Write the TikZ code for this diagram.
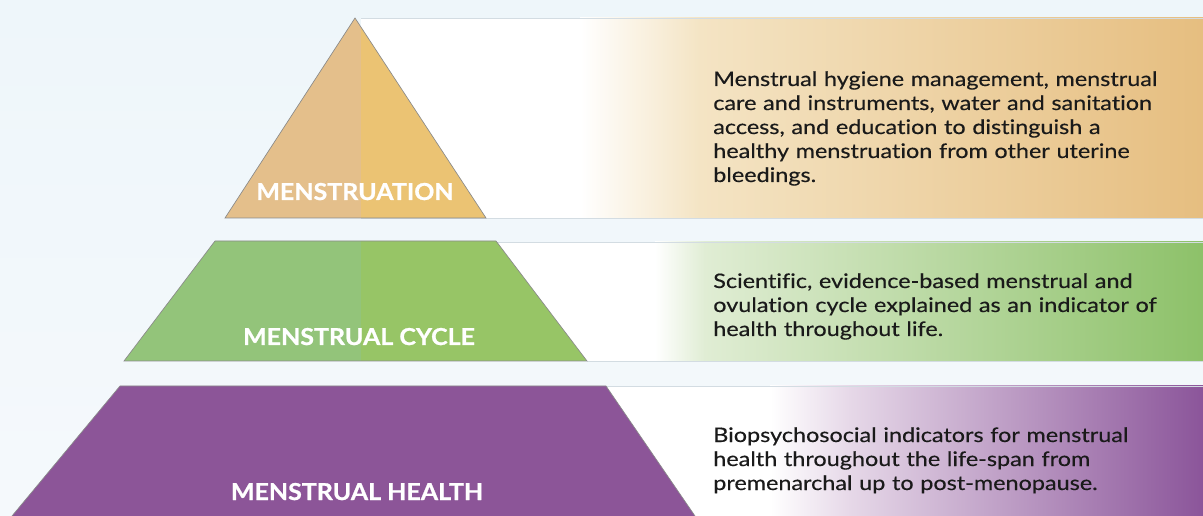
\documentclass[tikz,border=0pt]{standalone}
\usepackage{fontspec}
\setmainfont{Lato}
\newfontfamily\descfont[FakeStretch=1.17, FakeBold=0.35, Ligatures=NoCommon]{Lato}
\newfontfamily\lblfont[FakeStretch=1.07, FakeBold=0.9]{Lato}
\definecolor{bgtop}{HTML}{EEF6FA}
\definecolor{bgbot}{HTML}{F5F9FC}
\definecolor{bandedge}{HTML}{D3DCE2}
\definecolor{shapeedge}{HTML}{8A8A8A}
\definecolor{goldL}{HTML}{E4BF8B}
\definecolor{goldR}{HTML}{EBC373}
\definecolor{goldlight}{HTML}{F4E4C4}
\definecolor{golddark}{HTML}{E6BE80}
\definecolor{greenL}{HTML}{93C47A}
\definecolor{greenR}{HTML}{97C566}
\definecolor{greenlight}{HTML}{E0EDD4}
\definecolor{greendark}{HTML}{8DC169}
\definecolor{purp}{HTML}{8C5598}
\definecolor{purplight}{HTML}{E6D8E8}
\definecolor{purpdark}{HTML}{8B559A}
\definecolor{ink}{HTML}{1A1A1A}
\tikzset{
  bandline/.style={draw=bandedge, line width=0.6pt},
  outline/.style={draw=shapeedge, line width=0.5pt},
  lbl/.style={anchor=base, text=white, inner sep=0pt, font=\lblfont\bfseries\fontsize{17.5}{20}\selectfont},
  desc/.style={anchor=base west, align=left, text width=420pt, inner sep=0pt, text=ink,
    font=\descfont\fontsize{15}{18}\selectfont},
}
\begin{document}
\begin{tikzpicture}[x=0.75pt,y=-0.75pt]
\useasboundingbox (0,0) rectangle (1203,516);
\shade[top color=bgtop, bottom color=bgbot] (0,0) rectangle (1203,516);

% top band: menstruation
\fill[white] (361,18) rectangle (1203,218);
\shade[left color=white, right color=goldlight] (580,18) rectangle (700,218);
\shade[left color=goldlight, right color=golddark] (699.5,18) rectangle (1203,218);
\draw[bandline] (361,18) -- (1203,18) (361,218) -- (1203,218);
\begin{scope}
  \clip (355,18) -- (486,218) -- (225,218) -- cycle;
  \fill[goldL] (0,0) rectangle (361,516);
  \fill[goldR] (361,0) rectangle (1203,516);
\end{scope}
\draw[outline] (355,18) -- (486,218) -- (225,218) -- cycle;
\node[lbl] (l1) at (355,200) {MENSTRUATION};
\node[desc] (d1) at (713,86) {Menstrual hygiene management, menstrual\\
care and instruments, water and sanitation\\
access, and education to distinguish a\\
healthy menstruation from other uterine\\
bleedings.};

% middle band: menstrual cycle
\fill[white] (496,242) rectangle (1203,361);
\shade[left color=white, right color=greenlight] (655,242) rectangle (705,361);
\shade[left color=greenlight, right color=greendark] (704.5,242) rectangle (1203,361);
\draw[bandline] (496,242) -- (1203,242) (587,361) -- (1203,361);
\begin{scope}
  \clip (215,241) -- (496,241) -- (587,361) -- (124,361) -- cycle;
  \fill[greenL] (0,0) rectangle (361,516);
  \fill[greenR] (361,0) rectangle (1203,516);
\end{scope}
\draw[outline] (215,241) -- (496,241) -- (587,361) -- (124,361) -- cycle;
\node[lbl] (l2) at (359,345) {MENSTRUAL CYCLE};
\node[desc] (d2) at (713,288) {Scientific, evidence-based menstrual and\\
ovulation cycle explained as an indicator of\\
health throughout life.};

% bottom band: menstrual health
\fill[white] (606,386) rectangle (1203,516);
\shade[left color=white, right color=purplight] (770,386) rectangle (850,516);
\shade[left color=purplight, right color=purpdark] (849.5,386) rectangle (1203,516);
\draw[bandline] (606,386) -- (1203,386);
\fill[purp] (120,386) -- (606,386) -- (695,516) -- (12,516) -- cycle;
\draw[outline] (12,516) -- (120,386) -- (606,386) -- (695,516);
\node[lbl] (l3) at (357,500) {MENSTRUAL HEALTH};
\node[desc] (d3) at (713,442) {Biopsychosocial indicators for menstrual\\
health throughout the life-span from\\
premenarchal up to post-menopause.};
\end{tikzpicture}
\end{document}
